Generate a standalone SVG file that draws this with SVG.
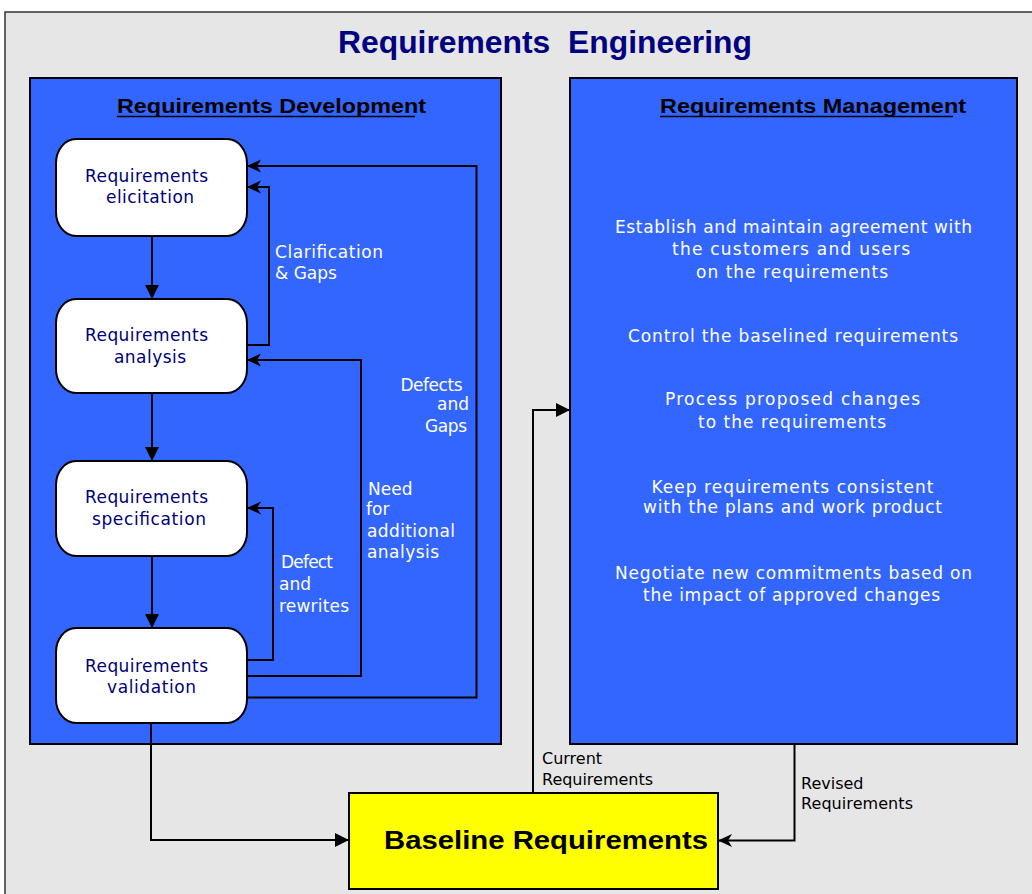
<svg xmlns="http://www.w3.org/2000/svg" width="1032" height="894" viewBox="0 0 1032 894">
  <defs>
    <style>
      .frame { fill: #e6e6e6; stroke: #333333; stroke-width: 1.5; }
      .panel { fill: #3366ff; stroke: #000000; stroke-width: 2; }
      .node { fill: #ffffff; stroke: #000000; stroke-width: 2; }
      .base { fill: #ffff00; stroke: #000000; stroke-width: 2; }
      .wire { fill: none; stroke: #000000; stroke-width: 2; }
      .title { font-family: "Liberation Sans", Arial, sans-serif; font-weight: bold; font-size: 32px; fill: #000080; }
      .head { font-family: "Liberation Sans", Arial, sans-serif; font-weight: bold; font-size: 20px; fill: #000000; }
      .nlabel { font-family: "DejaVu Sans", Verdana, sans-serif; font-size: 17px; fill: #00007a; }
      .wlabel { font-family: "DejaVu Sans", Verdana, sans-serif; font-size: 17px; fill: #ffffff; }
      .blabel { font-family: "DejaVu Sans", Verdana, sans-serif; font-size: 16px; fill: #000000; }
      .btitle { font-family: "Liberation Sans", Arial, sans-serif; font-weight: bold; font-size: 26px; fill: #000000; }
    </style>
    <marker id="tri" markerUnits="userSpaceOnUse" markerWidth="14" markerHeight="14" refX="14" refY="7" orient="auto">
      <path d="M0,0 L14,7 L0,14 z" fill="#000000"/>
    </marker>
    <marker id="barb" markerUnits="userSpaceOnUse" markerWidth="14" markerHeight="14" refX="14" refY="6.5" orient="auto">
      <path d="M0,0 L14,6.5 L0,13 L4,6.5 z" fill="#000000"/>
    </marker>
  </defs>

  <!-- background and outer frame -->
  <rect x="0" y="0" width="1032" height="894" fill="#ffffff"/>
  <rect class="frame" x="5" y="12" width="1040" height="900"/>
  <text class="title" x="338" y="53" xml:space="preserve" textLength="414" lengthAdjust="spacingAndGlyphs">Requirements  Engineering</text>

  <!-- panels -->
  <g id="dev-panel">
    <rect class="panel" x="30" y="78" width="471" height="666"/>
    <text class="head" x="117" y="113" textLength="309" lengthAdjust="spacingAndGlyphs">Requirements Development</text>
    <line x1="117" y1="116.5" x2="415" y2="116.5" stroke="#000000" stroke-width="1.5"/>
  </g>
  <g id="mgmt-panel">
    <rect class="panel" x="570" y="78" width="447" height="666"/>
    <text class="head" x="660" y="113" textLength="306" lengthAdjust="spacingAndGlyphs">Requirements Management</text>
    <line x1="660" y1="116.5" x2="953" y2="116.5" stroke="#000000" stroke-width="1.5"/>
    <g class="wlabel">
      <text x="615" y="233" textLength="357" lengthAdjust="spacing">Establish and maintain agreement with</text>
      <text x="672" y="255" textLength="238" lengthAdjust="spacing">the customers and users</text>
      <text x="696" y="277.5" textLength="192" lengthAdjust="spacing">on the requirements</text>
      <text x="628" y="342" textLength="330" lengthAdjust="spacing">Control the baselined requirements</text>
      <text x="665" y="405" textLength="255" lengthAdjust="spacing">Process proposed changes</text>
      <text x="698" y="427.5" textLength="188" lengthAdjust="spacing">to the requirements</text>
      <text x="651.5" y="493" textLength="282" lengthAdjust="spacing">Keep requirements consistent</text>
      <text x="643" y="512.5" textLength="299" lengthAdjust="spacing">with the plans and work product</text>
      <text x="615" y="579" textLength="357" lengthAdjust="spacing">Negotiate new commitments based on</text>
      <text x="643" y="601" textLength="297" lengthAdjust="spacing">the impact of approved changes</text>
    </g>
  </g>

  <!-- process nodes -->
  <g id="elicitation">
    <rect class="node" x="56" y="139" width="191" height="97" rx="20" ry="24"/>
    <text class="nlabel" x="85" y="182" textLength="123" lengthAdjust="spacing">Requirements</text>
    <text class="nlabel" x="106" y="203" textLength="88" lengthAdjust="spacing">elicitation</text>
  </g>
  <g id="analysis">
    <rect class="node" x="56" y="299" width="191" height="94" rx="20" ry="24"/>
    <text class="nlabel" x="85" y="341" textLength="123" lengthAdjust="spacing">Requirements</text>
    <text class="nlabel" x="114" y="362.5" textLength="72" lengthAdjust="spacing">analysis</text>
  </g>
  <g id="specification">
    <rect class="node" x="56" y="461" width="191" height="95" rx="20" ry="24"/>
    <text class="nlabel" x="85" y="503" textLength="123" lengthAdjust="spacing">Requirements</text>
    <text class="nlabel" x="92" y="524.5" textLength="114" lengthAdjust="spacing">specification</text>
  </g>
  <g id="validation">
    <rect class="node" x="56" y="628" width="191" height="95" rx="20" ry="24"/>
    <text class="nlabel" x="85" y="672" textLength="123" lengthAdjust="spacing">Requirements</text>
    <text class="nlabel" x="107" y="692.5" textLength="89" lengthAdjust="spacing">validation</text>
  </g>
  <g id="baseline">
    <rect class="base" x="349" y="793" width="369" height="96"/>
    <text class="btitle" x="384" y="849" textLength="324" lengthAdjust="spacingAndGlyphs">Baseline Requirements</text>
  </g>

  <!-- connectors -->
  <g id="connectors">
    <path class="wire" d="M152,236 V299" marker-end="url(#tri)"/>
    <path class="wire" d="M152,393 V461" marker-end="url(#tri)"/>
    <path class="wire" d="M152,556 V628" marker-end="url(#tri)"/>
    <path class="wire" d="M247,345 H269 V187 H247" marker-end="url(#barb)"/>
    <path class="wire" d="M247,697.5 H476.5 V166 H247" marker-end="url(#barb)"/>
    <path class="wire" d="M247,676 H361 V360 H247" marker-end="url(#barb)"/>
    <path class="wire" d="M247,660 H273 V508 H247" marker-end="url(#barb)"/>
    <path class="wire" d="M151,723 V840 H349" marker-end="url(#tri)"/>
    <path class="wire" d="M533,793 V410 H570" marker-end="url(#tri)"/>
    <path class="wire" d="M794.5,744 V840.5 H718" marker-end="url(#barb)"/>

    <g class="wlabel">
      <text x="275" y="258" textLength="108" lengthAdjust="spacing">Clarification</text>
      <text x="275" y="278.5">&amp; Gaps</text>
      <text x="400.5" y="390.5" textLength="62" lengthAdjust="spacing">Defects</text>
      <text x="437" y="410">and</text>
      <text x="425" y="432" textLength="42" lengthAdjust="spacing">Gaps</text>
      <text x="368" y="495">Need</text>
      <text x="366" y="515">for</text>
      <text x="367" y="536.5" textLength="88" lengthAdjust="spacing">additional</text>
      <text x="367" y="557.5" textLength="72" lengthAdjust="spacing">analysis</text>
      <text x="281" y="568" textLength="52" lengthAdjust="spacing">Defect</text>
      <text x="279" y="590">and</text>
      <text x="279" y="612" textLength="70" lengthAdjust="spacing">rewrites</text>
    </g>
    <g class="blabel">
      <text x="542" y="764">Current</text>
      <text x="542" y="785" textLength="111" lengthAdjust="spacing">Requirements</text>
      <text x="801" y="789">Revised</text>
      <text x="801" y="809" textLength="112" lengthAdjust="spacing">Requirements</text>
    </g>
  </g>
</svg>
